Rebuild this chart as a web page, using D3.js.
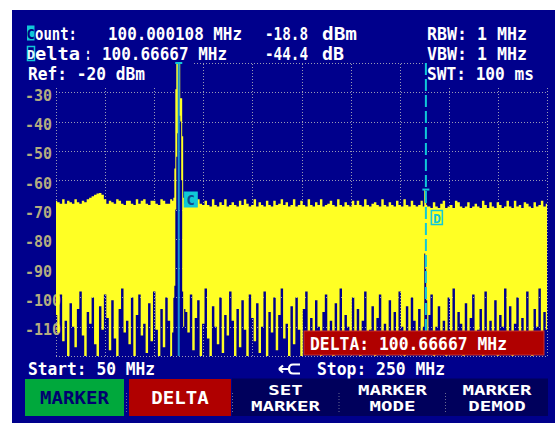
<!DOCTYPE html>
<html>
<head>
<meta charset="utf-8">
<script src="https://cdn.jsdelivr.net/npm/d3@7"></script>
<style>
  body { margin: 0; background: #fff; }
  svg { display: block; }
  text { font-family: "DejaVu Sans Mono", monospace; font-weight: bold; }
</style>
</head>
<body>
<div id="screen"></div>
<script>
// sweep settings
const startMHz = 50, stopMHz = 250;
const refLevel = -20, bottomLevel = -120;
const freqTicks = [50, 70, 90, 110, 130, 150, 170, 190, 210, 230, 250];
const levelTicks = [-20, -30, -40, -50, -60, -70, -80, -90, -100, -110, -120];
const levelLabels = [-30, -40, -50, -60, -70, -80, -90, -100, -110];

// max / min hold of the trace, one value per MHz from 50 to 250 MHz
const traceMax = [
  -67, -67.5, -68, -66.5, -68, -67, -67.5, -68, -66.5, -67.5,
  -68, -67, -67.5, -66.5, -66, -65.5, -65, -64.5, -64.4, -65,
  -66.5, -68, -67, -67.5, -68, -66.5, -67, -68, -68.5, -67,
  -67, -68, -68.5, -66.5, -68, -67, -66.5, -68, -68.5, -67,
  -67, -68, -68.5, -66.5, -67, -68, -68, -66.5, -66, -30,
  -19, -32, -66, -68.5, -67, -68, -67.5, -68.5, -66.5, -68,
  -68.5, -67, -68.5, -69, -66.5, -68.5, -69, -67.5, -68.5, -66.5,
  -69, -68.5, -67.5, -68.5, -69, -67, -68.5, -66.5, -68, -69,
  -68.5, -66.5, -69, -67.5, -68.5, -69, -67, -68.5, -69, -67,
  -68.5, -68, -66.5, -68.5, -67.5, -69, -68.5, -66.5, -69, -68.5,
  -67, -68.5, -69, -66.5, -68.5, -69, -67.5, -68.5, -66.5, -69,
  -68.5, -68, -67, -68.5, -69, -66.5, -68.5, -69, -67.5, -68.5,
  -69, -67, -68.5, -67, -68.5, -69, -66.5, -68.5, -69, -68,
  -67.5, -68.5, -69, -66.5, -68.5, -69, -67.5, -68.5, -69, -67,
  -68.5, -69, -66.5, -68.5, -69, -67, -68.5, -69, -68.5, -67,
  -64, -68.5, -69, -69.5, -67.5, -69, -69.5, -68, -67, -69.5,
  -69, -68.5, -69.5, -67, -67.5, -69, -69.5, -69, -67.5, -69.5,
  -69, -68, -69, -69.5, -67, -68.5, -69.5, -67.5, -69, -69.5,
  -67.5, -68.5, -69.5, -69, -67, -69, -69.5, -67, -69, -68.5,
  -69.5, -67.5, -68, -69, -69.5, -67.5, -69, -68.5, -67, -69,
  -68
];
const traceMin = [
  -106, -112, -99, -115, -108, -121, -102, -110, -117, -104,
  -98, -113, -120, -105, -109, -100, -116, -122, -103, -111,
  -99, -107, -118, -101, -114, -120, -104, -97, -112, -108,
  -116, -100, -121, -106, -99, -113, -109, -119, -102, -115,
  -98, -111, -122, -104, -117, -100, -108, -120, -100, -70,
  -40, -60, -110, -105, -112, -99, -118, -107, -101, -120,
  -109, -97, -114, -121, -103, -110, -116, -100, -119, -106,
  -113, -98, -108, -122, -104, -117, -101, -111, -120, -99,
  -107, -115, -102, -119, -110, -98, -121, -105, -112, -100,
  -118, -106, -97, -114, -109, -122, -103, -116, -100, -111,
  -120, -104, -98, -113, -107, -119, -101, -110, -122, -105,
  -99, -115, -108, -121, -102, -112, -97, -117, -106, -110,
  -119, -100, -113, -104, -122, -108, -98, -116, -111, -103,
  -120, -107, -99, -114, -109, -121, -101, -112, -105, -118,
  -98, -110, -122, -103, -115, -100, -108, -119, -104, -112,
  -86, -117, -106, -99, -121, -110, -103, -115, -108, -120,
  -100, -112, -97, -118, -105, -109, -122, -102, -114, -107,
  -99, -119, -111, -104, -121, -98, -113, -108, -116, -101,
  -120, -106, -110, -97, -117, -103, -122, -109, -100, -114,
  -107, -119, -98, -112, -121, -104, -110, -97, -116, -105,
  -111
];

// finer samples around the two carriers
const peakFreq = [97.6, 98.0, 98.4, 98.8, 99.2, 99.6, 100.0, 100.4, 100.8, 101.2, 101.6, 102.0, 102.4,
                  199.8, 200.2, 200.6, 201.0, 201.4];
const peakMax = [-67, -66, -56, -29, -19, -19, -19, -19, -32, -32, -45, -66, -68,
                 -69, -63.3, -66, -68.5, -69];
const peakMin = [-112, -100, -96, -70, -52, -44, -40, -38, -40, -60, -98, -110, -104,
                 -110, -85, -90, -101, -118];

// marker readouts
const countFreq = 100.000108, countLevel = -18.8;
const deltaFreq = 100.66667, deltaLevel = -44.4;
const rbw = "1 MHz", vbw = "1 MHz", swt = "100 ms";
const softkeys = [["MARKER"], ["DELTA"], ["SET", "MARKER"], ["MARKER", "MODE"], ["MARKER", "DEMOD"]];

const width = 555, height = 423;
const blue = "#00008c", cyan = "#10c8d8", yellow = "#ffff24", grey = "#9a9ab4";

const svg = d3.select("#screen").append("svg")
    .attr("width", width)
    .attr("height", height);

svg.append("rect")
    .attr("x", 12).attr("y", 10)
    .attr("width", width - 12).attr("height", height - 10)
    .attr("fill", blue);

const x = d3.scaleLinear().domain([startMHz, stopMHz]).range([56, 547]);
const y = d3.scaleLinear().domain([bottomLevel, refLevel]).range([356, 63]).clamp(true);

// dotted graticule
const gx = svg.append("g")
    .attr("transform", "translate(0,356)")
    .call(d3.axisTop(x).tickValues(freqTicks).tickSize(293).tickFormat(""));
const gy = svg.append("g")
    .attr("transform", "translate(56,0)")
    .call(d3.axisLeft(y).tickValues(levelTicks).tickSize(-491).tickFormat(""));
[gx, gy].forEach(g => {
    g.select(".domain").remove();
    g.selectAll("line")
        .attr("stroke", grey)
        .attr("stroke-dasharray", "1,2")
        .attr("shape-rendering", "crispEdges");
});

// readout rows hide the top of the graticule
svg.append("rect").attr("x", 12).attr("y", 10).attr("width", 180).attr("height", 78).attr("fill", blue);
svg.append("rect").attr("x", 428).attr("y", 10).attr("width", 127).attr("height", 78).attr("fill", blue);

svg.selectAll(".lvl")
    .data(levelLabels)
    .enter()
    .append("text")
    .attr("class", "lvl")
    .attr("x", 25)
    .attr("y", d => y(d) + 8.5)
    .attr("font-size", 16)
    .attr("fill", "#b4ac80")
    .attr("textLength", d => String(d).length * 9)
    .attr("lengthAdjust", "spacingAndGlyphs")
    .text(d => d);

// trace
let points = d3.range(startMHz, stopMHz + 1).map((f, i) => ({ f: f, hi: traceMax[i], lo: traceMin[i] }))
    .filter(p => !peakFreq.some(pf => Math.abs(pf - p.f) < 0.45));
peakFreq.forEach((f, i) => points.push({ f: f, hi: peakMax[i], lo: peakMin[i] }));
points.sort((a, b) => a.f - b.f);

const area = d3.area()
    .curve(d3.curveStep)
    .x(d => x(d.f))
    .y0(d => y(d.lo))
    .y1(d => y(d.hi));

svg.append("path")
    .datum(points)
    .attr("d", area)
    .attr("fill", yellow);

// markers
const cx = x(countFreq), dx = x(countFreq + deltaFreq);
const dLevel = countLevel + deltaLevel;

svg.append("line")
    .attr("x1", cx).attr("x2", cx)
    .attr("y1", y(refLevel)).attr("y2", y(bottomLevel))
    .attr("stroke", "#1890d0").attr("stroke-width", 2);
svg.append("line")
    .attr("x1", cx - 3.5).attr("x2", cx + 3.5)
    .attr("y1", y(countLevel)).attr("y2", y(countLevel))
    .attr("stroke", cyan).attr("stroke-width", 2);

svg.append("line")
    .attr("x1", dx).attr("x2", dx)
    .attr("y1", y(refLevel)).attr("y2", y(bottomLevel))
    .attr("stroke", cyan).attr("stroke-width", 2)
    .attr("stroke-dasharray", "12,4");
svg.append("line")
    .attr("x1", dx - 3.5).attr("x2", dx + 3.5)
    .attr("y1", y(dLevel)).attr("y2", y(dLevel))
    .attr("stroke", cyan).attr("stroke-width", 2);

svg.append("rect")
    .attr("x", cx + 5.5).attr("y", 192).attr("width", 13).attr("height", 15)
    .attr("fill", cyan).attr("stroke", cyan);
svg.append("text")
    .attr("x", cx + 12).attr("y", 204.5).attr("text-anchor", "middle")
    .attr("font-size", 14).attr("fill", "#104a88").text("C");

svg.append("rect")
    .attr("x", dx + 5.5).attr("y", 210.5).attr("width", 11).attr("height", 14)
    .attr("fill", "none").attr("stroke", cyan).attr("stroke-width", 1.5);
svg.append("text")
    .attr("x", dx + 11).attr("y", 222.5).attr("text-anchor", "middle")
    .attr("font-size", 13).attr("fill", cyan).text("D");

// delta readout box
svg.append("rect")
    .attr("x", 304).attr("y", 331).attr("width", 240).attr("height", 24)
    .attr("fill", "#b00000").attr("stroke", "#c83030").attr("stroke-width", 1);
svg.append("text")
    .attr("x", 310).attr("y", 350)
    .attr("font-size", 17).attr("fill", "#fff")
    .attr("textLength", 197).attr("lengthAdjust", "spacingAndGlyphs")
    .text(`DELTA: ${deltaFreq.toFixed(5)} MHz`);

// readout text
const label = (txt, tx, ty, len, color) => svg.append("text")
    .attr("x", tx).attr("y", ty)
    .attr("font-size", 17)
    .attr("fill", color || "#fff")
    .attr("textLength", len)
    .attr("lengthAdjust", "spacingAndGlyphs")
    .text(txt);

svg.append("rect").attr("x", 27).attr("y", 25.5).attr("width", 7.5).attr("height", 15).attr("fill", cyan);
svg.append("text").attr("x", 30.8).attr("y", 38.5).attr("text-anchor", "middle")
    .attr("font-size", 14).attr("fill", "#000080").text("C");
label("ount:", 35, 39.5, 42);
label(`${countFreq.toFixed(6)} MHz`, 108, 39.5, 134);
label(`${countLevel.toFixed(1)}`, 265, 39.5, 43);
label("dBm", 322, 39.5, 35);
label(`RBW: ${rbw}`, 427, 39.5, 100);

svg.append("rect").attr("x", 27.5).attr("y", 46.5).attr("width", 7).attr("height", 14)
    .attr("fill", "none").attr("stroke", cyan).attr("stroke-width", 1.5);
svg.append("text").attr("x", 31).attr("y", 58.5).attr("text-anchor", "middle")
    .attr("font-size", 13).attr("fill", "#e8f8ff").text("D");
label("elta", 35, 59.5, 45);
label(":", 85, 59.5, 6);
label(`${deltaFreq.toFixed(5)} MHz`, 102, 59.5, 125);
label(`${deltaLevel.toFixed(1)}`, 265, 59.5, 43);
label("dB", 322, 59.5, 22);
label(`VBW: ${vbw}`, 427, 59.5, 100);

label(`Ref: ${refLevel} dBm`, 28, 80, 117);
label(`SWT: ${swt}`, 427, 80, 107);

label(`Start: ${startMHz} MHz`, 28, 374.5, 127);
label(`Stop: ${stopMHz} MHz`, 317, 374.5, 128);

// input connector symbol
svg.append("path")
    .attr("d", "M279,369 H289 M300,364.5 H293 Q289,364.5 289,369 Q289,373.5 293,373.5 H300 M279,369 L283,365.5 M279,369 L283,372.5")
    .attr("fill", "none").attr("stroke", "#fff").attr("stroke-width", 2.2);

// softkey bar
const keyX = [25, 129, 233, 340, 446];
const keyW = [99, 102, 105, 105, 102];
const keyFill = ["#00a83c", "#b00000", "#00005c", "#00005c", "#00005c"];
const keyInk = ["#000070", "#fff", "#fff", "#fff", "#fff"];

svg.append("rect").attr("x", 232).attr("y", 378.5).attr("width", 316).attr("height", 37.5).attr("fill", "#00005c");

softkeys.forEach((lines, i) => {
    svg.append("rect")
        .attr("x", keyX[i]).attr("y", 379).attr("width", keyW[i]).attr("height", 37)
        .attr("fill", keyFill[i]);
    const mid = keyX[i] + keyW[i] / 2;
    lines.forEach((t, j) => {
        svg.append("text")
            .attr("x", mid)
            .attr("y", lines.length === 1 ? 404 : 394.5 + j * 16.5)
            .attr("text-anchor", "middle")
            .attr("font-size", lines.length === 1 ? 17 : 14)
            .attr("fill", keyInk[i])
            .attr("textLength", t.length * 11.5)
            .attr("lengthAdjust", "spacingAndGlyphs")
            .text(t);
    });
});

[126.5, 232.5, 339, 445.5].forEach(sx => {
    svg.append("line")
        .attr("x1", sx).attr("x2", sx).attr("y1", 393).attr("y2", 412)
        .attr("stroke", "#6a6a90").attr("stroke-dasharray", "1,2");
});
</script>
</body>
</html>
